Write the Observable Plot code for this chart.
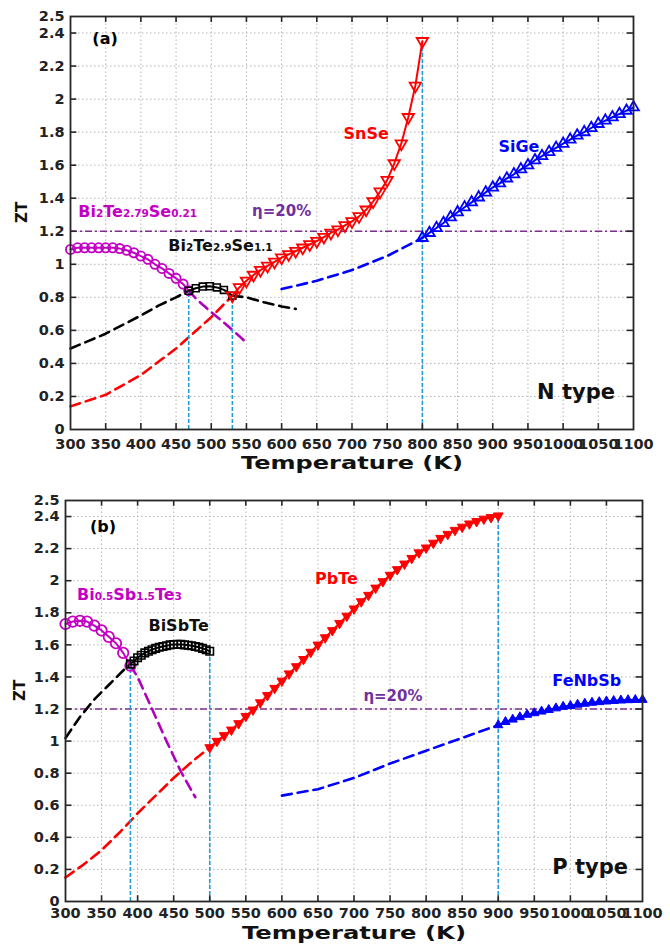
<!DOCTYPE html>
<html><head><meta charset="utf-8">
<script src="https://cdn.jsdelivr.net/npm/d3@7"></script>
<script src="https://cdn.jsdelivr.net/npm/@observablehq/plot@0.6"></script>
<style>
body{margin:0;background:#fff;}
#wrap{position:relative;width:670px;height:946px;background:#fff;}
#a{position:absolute;left:0;top:0;}
#b{position:absolute;left:0;top:484px;}
</style></head><body><div id="wrap"><div id="a"></div><div id="b"></div></div>
<script>
// ---------- ticks ----------
const xTicks = [300,350,400,450,500,550,600,650,700,750,800,850,900,950,1000,1050,1100];
const yTicks = [0,0.2,0.4,0.6,0.8,1,1.2,1.4,1.6,1.8,2,2.2,2.4,2.5];
const yGrid = [0.2,0.4,0.6,0.8,1,1.2,1.4,1.6,1.8,2,2.2,2.4];
const etaLevel = 1.2;

// ---------- panel (a) N type ----------
const a_Bi279_T = [300,310,320,330,340,350,360,370,380,390,400,410,420,430,440,450,460,468];
const a_Bi279_Z = [1.09,1.10,1.10,1.10,1.10,1.10,1.10,1.095,1.085,1.07,1.05,1.03,1.00,0.975,0.945,0.915,0.88,0.84];
const a_Bi279Dash_T = [468,480,500,520,540,550];
const a_Bi279Dash_Z = [0.84,0.785,0.71,0.64,0.565,0.525];
const a_Bi29_T = [468,478,488,498,508,518,530];
const a_Bi29_Z = [0.84,0.855,0.865,0.867,0.86,0.845,0.81];
const a_Bi29DashL_T = [300,325,350,375,400,425,450,468];
const a_Bi29DashL_Z = [0.49,0.535,0.58,0.635,0.69,0.75,0.80,0.84];
const a_Bi29DashR_T = [530,550,575,600,620];
const a_Bi29DashR_Z = [0.81,0.80,0.77,0.745,0.73];
const a_SnSeDash_T = [300,350,400,450,500,530];
const a_SnSeDash_Z = [0.14,0.21,0.33,0.49,0.68,0.81];
const a_SnSe_T = [530,540,550,560,570,580,590,600,610,620,630,640,650,660,670,680,690,700,710,720,730,740,750,760,770,780,790,800];
const a_SnSe_Z = [0.81,0.86,0.90,0.935,0.965,0.99,1.015,1.04,1.06,1.08,1.10,1.12,1.14,1.165,1.19,1.21,1.235,1.26,1.29,1.33,1.38,1.44,1.51,1.61,1.73,1.89,2.08,2.35];
const a_SiGeDash_T = [600,650,700,750,800];
const a_SiGeDash_Z = [0.85,0.90,0.965,1.05,1.16];
const a_SiGe_T = [800,810,820,830,840,850,860,870,880,890,900,910,920,930,940,950,960,970,980,990,1000,1010,1020,1030,1040,1050,1060,1070,1080,1090,1100];
const a_SiGe_Z = [1.16,1.19,1.22,1.25,1.285,1.315,1.345,1.375,1.405,1.435,1.465,1.49,1.52,1.545,1.575,1.60,1.63,1.655,1.68,1.705,1.73,1.755,1.78,1.80,1.825,1.85,1.87,1.89,1.91,1.93,1.95];
const a_Vert_T = [468,530,800];
const a_Vert_Z = [0.84,0.81,2.35];

// ---------- panel (b) P type ----------
const b_BiSb_T = [300,310,320,330,340,350,360,370,380,390];
const b_BiSb_Z = [1.73,1.745,1.75,1.745,1.72,1.69,1.65,1.61,1.55,1.47];
const b_BiSbDash_T = [390,400,420,440,460,480];
const b_BiSbDash_Z = [1.47,1.40,1.20,1.00,0.81,0.65];
const b_BiSbTe_T = [390,395,400,405,410,415,420,425,430,435,440,445,450,455,460,465,470,475,480,485,490,495,500];
const b_BiSbTe_Z = [1.48,1.50,1.52,1.535,1.55,1.56,1.57,1.578,1.585,1.59,1.595,1.60,1.602,1.603,1.603,1.60,1.598,1.595,1.59,1.585,1.578,1.57,1.56];
const b_BiSbTeDash_T = [300,320,340,360,380,390];
const b_BiSbTeDash_Z = [1.02,1.15,1.26,1.35,1.44,1.48];
const b_PbTeDash_T = [300,325,350,375,400,425,450,475,500];
const b_PbTeDash_Z = [0.15,0.23,0.32,0.43,0.55,0.66,0.77,0.87,0.96];
const b_PbTe_T = [500,510,520,530,540,550,560,570,580,590,600,610,620,630,640,650,660,670,680,690,700,710,720,730,740,750,760,770,780,790,800,810,820,830,840,850,860,870,880,890,900];
const b_PbTe_Z = [0.96,1.00,1.035,1.07,1.11,1.155,1.195,1.24,1.285,1.33,1.375,1.42,1.465,1.51,1.555,1.60,1.645,1.69,1.735,1.78,1.825,1.87,1.91,1.955,1.995,2.035,2.07,2.105,2.14,2.175,2.205,2.235,2.265,2.29,2.315,2.335,2.355,2.37,2.385,2.395,2.405];
const b_FeDash_T = [600,650,700,750,800,850,900];
const b_FeDash_Z = [0.66,0.70,0.77,0.86,0.94,1.02,1.10];
const b_Fe_T = [900,910,920,930,940,950,960,970,980,990,1000,1010,1020,1030,1040,1050,1060,1070,1080,1090,1100];
const b_Fe_Z = [1.10,1.12,1.135,1.15,1.165,1.175,1.185,1.195,1.205,1.215,1.22,1.228,1.234,1.24,1.244,1.248,1.251,1.254,1.256,1.257,1.258];
const b_Vert_T = [390,500,900];
const b_Vert_Z = [1.47,1.56,2.405];

// ---------- label texts ----------
const labTextA = ["(a)","Bi2Te2.79Se0.21","η=20%","Bi2Te2.9Se1.1","SnSe","SiGe","N type"];
const labTextB = ["(b)","Bi0.5Sb1.5Te3","BiSbTe","PbTe","η=20%","FeNbSb","P type"];
const xTitle = "Temperature (K)";
const yTitle = "ZT";

// ---------- helpers ----------
const pts = (T, Z) => T.map((t, i) => ({t, z: Z[i]}));
const downTri = {draw(ctx, size) {
  const y = -Math.sqrt(size / (Math.sqrt(3) * 3));
  ctx.moveTo(0, -y * 2);
  ctx.lineTo(-Math.sqrt(3) * y, y);
  ctx.lineTo(Math.sqrt(3) * y, y);
  ctx.closePath();
}};
const C = {mag:"#C400C4", magDash:"#B000BE", red:"#FF0000", blue:"#0000FF", black:"#000000", cyan:"#1E9FDB", eta:"#7E2F8E", etaText:"#7030A0"};
const FONT = "DejaVu Sans";

function dashed(d, color) {
  return Plot.line(d, {x:"t", y:"z", stroke: color, strokeWidth: 2.6, strokeDasharray: "10,6"});
}
function solid(d, color) {
  return Plot.line(d, {x:"t", y:"z", stroke: color, strokeWidth: 2});
}
function frameMarks(tx, ty) {
  return [
    Plot.frame({stroke:"#262626", strokeWidth: 1.8}),
    Plot.ruleX(xTicks.slice(1, -1), {x: d => d, y1: 0, y2: ty, stroke:"#262626", strokeWidth: 1.6}),
    Plot.ruleX(xTicks.slice(1, -1), {x: d => d, y1: 2.5 - ty, y2: 2.5, stroke:"#262626", strokeWidth: 1.6}),
    Plot.ruleY(yTicks.slice(1, -1), {y: d => d, x1: 300, x2: 300 + tx, stroke:"#262626", strokeWidth: 1.6}),
    Plot.ruleY(yTicks.slice(1, -1), {y: d => d, x1: 1100 - tx, x2: 1100, stroke:"#262626", strokeWidth: 1.6})
  ];
}
function gridMarks() {
  return [
    Plot.ruleX(xTicks.slice(1, -1), {x: d => d, y1: 0, y2: 2.5, stroke:"#b4b4b4", strokeWidth: 1, strokeDasharray:"1.5,2.5"}),
    Plot.ruleY(yGrid, {y: d => d, x1: 300, x2: 1100, stroke:"#b4b4b4", strokeWidth: 1, strokeDasharray:"1.5,2.5"})
  ];
}
function labelMarks(list) {
  return list.map(l => Plot.text([l], {x:"t", y:"z", text:"text", fill: l.color, fontSize: l.size,
    fontWeight:"bold", fontFamily: FONT, textAnchor:"start", lineAnchor:"middle"}));
}
function axisTitles(dxZT, dyT) {
  return [
    Plot.text([yTitle], {text: d => d, frameAnchor:"left", dx: dxZT, rotate: -90, fontSize: 15, fontWeight:"bold", fontFamily: FONT, fill:"#111"}),
    Plot.text([xTitle], {text: d => d, frameAnchor:"bottom", dy: dyT, fontSize: 17, fontWeight:"bold", fontFamily: FONT, fill:"#111"})
  ];
}
function postProcess(svg, titleLen) {
  const chem = /^(Bi|Sb|Te|Se)/;
  d3.select(svg).selectAll("text").each(function() {
    const s = this.textContent;
    if (this.childElementCount === 0 && chem.test(s) && /\d/.test(s)) {
      const parts = s.match(/[A-Za-z]+|[0-9.]+/g);
      this.textContent = "";
      const sel = d3.select(this);
      parts.forEach(p => {
        const isNum = /^[0-9.]+$/.test(p);
        sel.append("tspan").attr("font-size", isNum ? "10.5px" : null).text(p);
      });
    }
    if (s === xTitle) {
      d3.select(this).attr("textLength", titleLen).attr("lengthAdjust", "spacingAndGlyphs");
    }
  });
}
function scales(xPad) {
  return {
    x: {domain:[300,1100], ticks: xTicks, tickFormat: d => String(d), tickSize: 0, tickPadding: xPad, label: null},
    y: {domain:[0,2.5], ticks: yTicks, tickFormat: d => String(+d.toFixed(1)), tickSize: 0, tickPadding: 6, label: null}
  };
}

// ---------- panel (a) ----------
const labelsA = [
  {t:331, z:2.365, text: labTextA[0], color: C.black, size: 16},
  {t:311, z:1.32, text: labTextA[1], color: C.mag, size: 16},
  {t:558, z:1.32, text: labTextA[2], color: C.etaText, size: 15},
  {t:439, z:1.11, text: labTextA[3], color: "#111", size: 16},
  {t:688, z:1.79, text: labTextA[4], color: C.red, size: 16},
  {t:908, z:1.71, text: labTextA[5], color: C.blue, size: 16},
  {t:963, z:0.225, text: labTextA[6], color: "#111", size: 21}
];
const plotA = Plot.plot({
  width: 670, height: 484,
  marginLeft: 70, marginRight: 37, marginTop: 16, marginBottom: 55,
  ...scales(9),
  style: {fontFamily: FONT, fontSize: "14.5px", fontWeight: "bold", color: "#222", background: "#fff"},
  marks: [
    ...gridMarks(),
    Plot.ruleY([etaLevel], {y: d => d, x1: 300, x2: 1100, stroke: C.eta, strokeWidth: 1.6, strokeDasharray: "7,3,2,3"}),
    dashed(pts(a_Bi29DashL_T, a_Bi29DashL_Z), C.black),
    dashed(pts(a_Bi29DashR_T, a_Bi29DashR_Z), C.black),
    dashed(pts(a_SnSeDash_T, a_SnSeDash_Z), C.red),
    dashed(pts(a_Bi279Dash_T, a_Bi279Dash_Z), C.magDash),
    dashed(pts(a_SiGeDash_T, a_SiGeDash_Z), C.blue),
    Plot.ruleX(pts(a_Vert_T, a_Vert_Z), {x:"t", y1: 0, y2:"z", stroke: C.cyan, strokeWidth: 1.6, strokeDasharray:"4,2"}),
    solid(pts(a_Bi279_T, a_Bi279_Z), C.mag),
    Plot.dot(pts(a_Bi279_T, a_Bi279_Z), {x:"t", y:"z", r: 4.6, stroke: C.mag, strokeWidth: 1.8, fill: "none"}),
    solid(pts(a_Bi29_T, a_Bi29_Z), C.black),
    Plot.dot(pts(a_Bi29_T, a_Bi29_Z), {x:"t", y:"z", symbol:"square", r: 3.9, stroke: C.black, strokeWidth: 1.6, fill: "none"}),
    solid(pts(a_SiGe_T, a_SiGe_Z), C.blue),
    Plot.dot(pts(a_SiGe_T, a_SiGe_Z), {x:"t", y:"z", symbol:"triangle", r: 4, stroke: C.blue, strokeWidth: 1.8, fill: "none"}),
    solid(pts(a_SnSe_T, a_SnSe_Z), C.red),
    Plot.dot(pts(a_SnSe_T, a_SnSe_Z), {x:"t", y:"z", symbol: downTri, r: 4.2, stroke: C.red, strokeWidth: 1.8, fill: "none"}),
    ...frameMarks(9, 0.036),
    ...labelMarks(labelsA),
    ...axisTitles(-48, 39)
  ]
});
postProcess(plotA, 222);
document.getElementById("a").appendChild(plotA);

// ---------- panel (b) ----------
const labelsB = [
  {t:334, z:2.335, text: labTextB[0], color: C.black, size: 16},
  {t:316, z:1.91, text: labTextB[1], color: C.mag, size: 16},
  {t:415, z:1.72, text: labTextB[2], color: "#111", size: 16},
  {t:646, z:2.01, text: labTextB[3], color: C.red, size: 16},
  {t:713, z:1.278, text: labTextB[4], color: C.etaText, size: 15},
  {t:975, z:1.378, text: labTextB[5], color: C.blue, size: 16},
  {t:975, z:0.215, text: labTextB[6], color: "#111", size: 21}
];
const plotB = Plot.plot({
  width: 670, height: 462,
  marginLeft: 65, marginRight: 28, marginTop: 16, marginBottom: 45,
  ...scales(6),
  style: {fontFamily: FONT, fontSize: "14.5px", fontWeight: "bold", color: "#222", background: "#fff"},
  marks: [
    ...gridMarks(),
    Plot.ruleY([etaLevel], {y: d => d, x1: 300, x2: 1100, stroke: C.eta, strokeWidth: 1.6, strokeDasharray: "7,3,2,3"}),
    dashed(pts(b_BiSbTeDash_T, b_BiSbTeDash_Z), C.black),
    dashed(pts(b_PbTeDash_T, b_PbTeDash_Z), C.red),
    dashed(pts(b_BiSbDash_T, b_BiSbDash_Z), C.magDash),
    dashed(pts(b_FeDash_T, b_FeDash_Z), C.blue),
    Plot.ruleX(pts(b_Vert_T, b_Vert_Z), {x:"t", y1: 0, y2:"z", stroke: C.cyan, strokeWidth: 1.6, strokeDasharray:"4,2"}),
    solid(pts(b_BiSb_T, b_BiSb_Z), C.mag),
    Plot.dot(pts(b_BiSb_T, b_BiSb_Z), {x:"t", y:"z", r: 5.2, stroke: C.mag, strokeWidth: 1.8, fill: "none"}),
    solid(pts(b_BiSbTe_T, b_BiSbTe_Z), C.black),
    Plot.dot(pts(b_BiSbTe_T, b_BiSbTe_Z), {x:"t", y:"z", symbol:"square", r: 4.2, stroke: C.black, strokeWidth: 1.6, fill: "none"}),
    solid(pts(b_PbTe_T, b_PbTe_Z), C.red),
    Plot.dot(pts(b_PbTe_T, b_PbTe_Z), {x:"t", y:"z", symbol: downTri, r: 3.6, stroke: C.red, strokeWidth: 1, fill: C.red}),
    solid(pts(b_Fe_T, b_Fe_Z), C.blue),
    Plot.dot(pts(b_Fe_T, b_Fe_Z), {x:"t", y:"z", symbol:"triangle", r: 3.4, stroke: C.blue, strokeWidth: 1, fill: C.blue}),
    ...frameMarks(9, 0.036),
    ...labelMarks(labelsB),
    ...axisTitles(-45, 37)
  ]
});
postProcess(plotB, 224);
document.getElementById("b").appendChild(plotB);
</script>
</body></html>
